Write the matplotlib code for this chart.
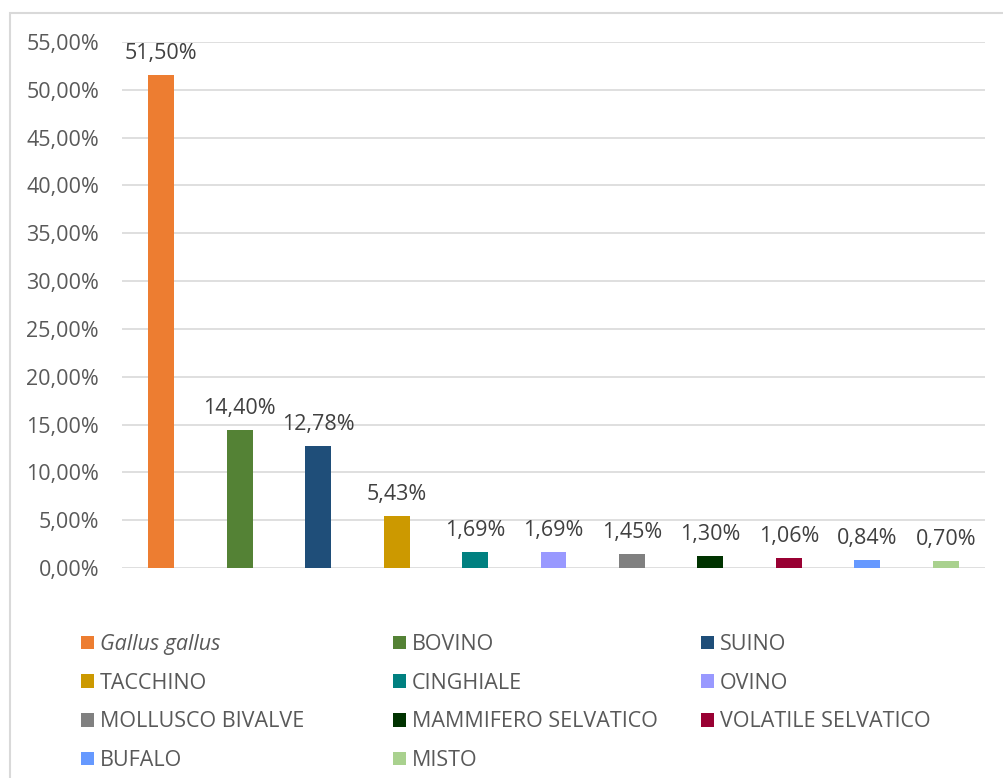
import matplotlib
matplotlib.use("Agg")
import matplotlib.pyplot as plt
from matplotlib.patches import Patch, Rectangle
from matplotlib.ticker import FuncFormatter
import numpy as np

# dati
categorie = ["Gallus gallus", "BOVINO", "SUINO", "TACCHINO", "CINGHIALE", "OVINO",
             "MOLLUSCO BIVALVE", "MAMMIFERO SELVATICO", "VOLATILE SELVATICO",
             "BUFALO", "MISTO"]
valori = [51.50, 14.40, 12.78, 5.43, 1.69, 1.69, 1.45, 1.30, 1.06, 0.84, 0.70]
colori = ["#ED7D31", "#548235", "#1F4E79", "#CC9900", "#008080", "#9999FF",
          "#808080", "#003300", "#990033", "#6699FF", "#A9D18E"]
tick_y = np.arange(0, 56, 5)

plt.rcParams['font.family'] = ['Open Sans', 'DejaVu Sans']
GRIGIO = "#595959"
FS = 15.5

W, H = 1004, 778
fig = plt.figure(figsize=(W / 100, H / 100), dpi=100)

# cornice del grafico (stile Excel)
fig.patches.append(Rectangle((10 / W, -0.1), 1.2, 1.1 - 13 / H, transform=fig.transFigure,
                             fill=False, edgecolor="#D9D9D9", linewidth=1.5))

ax = fig.add_axes([122 / W, 1 - 568 / H, (985 - 122) / W, (568 - 42) / H])

x = np.arange(len(categorie))
for i, (v, c) in enumerate(zip(valori, colori)):
    ax.bar(x[i], v, width=0.33, color=c, zorder=3, label=categorie[i])
    ax.text(x[i], v + 1.15, f"{v:.2f}%".replace(".", ","), ha="center", va="bottom",
            fontsize=FS, color="#404040")

ax.set_xlim(-0.5, len(categorie) - 0.5)
ax.set_ylim(0, 55)
ax.set_yticks(tick_y)
ax.yaxis.set_major_formatter(FuncFormatter(lambda v, p: f"{v:.2f}%".replace(".", ",")))
ax.tick_params(axis="y", length=0, pad=16.5, labelsize=FS, labelcolor=GRIGIO)
ax.set_xticks([])
ax.grid(axis="y", color="#D9D9D9", linewidth=1.2, zorder=0)
for s in ax.spines.values():
    s.set_visible(False)

# legenda su tre colonne, riempita per righe
handles = [Patch(facecolor=c, edgecolor="none") for c in colori]
col_x = [81, 393, 701]
for col in range(3):
    idx = list(range(col, len(categorie), 3))
    leg = fig.legend([handles[i] for i in idx], [categorie[i] for i in idx],
                     loc="upper left", bbox_to_anchor=(col_x[col] / W, 1 - 634 / H),
                     frameon=False, fontsize=FS, handlelength=0.6, handleheight=0.6,
                     handletextpad=0.28, labelspacing=0.82, borderaxespad=0, borderpad=0)
    for t, i in zip(leg.get_texts(), idx):
        t.set_color(GRIGIO)
        if i == 0:
            t.set_fontstyle("italic")

fig.savefig("out.png", dpi=100)
